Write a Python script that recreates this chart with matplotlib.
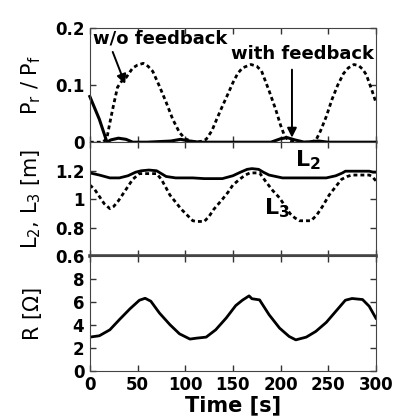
import matplotlib
matplotlib.use("Agg")
import matplotlib.pyplot as plt

plt.rcParams['font.family'] = 'DejaVu Sans'
plt.rcParams['mathtext.fontset'] = 'dejavusans'

# reflected power ratio
t_wo = [0, 14, 18, 21, 25, 29, 33, 38, 45, 50, 56, 61, 66, 73, 80, 87, 94, 100,
        106, 112, 118, 122, 128, 133, 139, 145, 150, 155, 160, 169, 175, 180,
        188, 195, 200, 204, 208, 214, 222, 230, 237, 242, 248, 254, 260, 266,
        271, 277, 282, 286, 290, 293, 296, 300]
p_wo = [0, 0, 0.008, 0.034, 0.066, 0.096, 0.106, 0.113, 0.13, 0.135, 0.138,
        0.133, 0.124, 0.098, 0.07, 0.04, 0.017, 0.006, 0.002, 0.0, 0.002,
        0.005, 0.02, 0.04, 0.063, 0.085, 0.104, 0.12, 0.13, 0.136, 0.133,
        0.125, 0.09, 0.057, 0.03, 0.012, 0.004, 0.001, 0.0, 0.0, 0.003, 0.02,
        0.045, 0.075, 0.1, 0.12, 0.13, 0.136, 0.134, 0.128, 0.118, 0.104,
        0.09, 0.07]

t_fb = [0, 5, 10, 15, 18, 22, 30, 38, 45, 60, 85, 95, 105, 115, 190, 200,
        207, 215, 225, 240, 250, 300]
p_fb = [0.08, 0.06, 0.04, 0.015, 0.0, 0.004, 0.007, 0.005, 0.0, 0.0, 0.002,
        0.005, 0.002, 0.0, 0.0, 0.006, 0.008, 0.004, 0.0, 0.002, 0.0, 0.0]

# line lengths
t_l2 = [0, 10, 21, 31, 40, 48, 54, 62, 70, 75, 80, 90, 108, 120, 139, 150,
        158, 165, 170, 177, 182, 188, 195, 202, 220, 248, 258, 265, 268, 280,
        293, 297, 300]
l2 = [1.185, 1.17, 1.15, 1.15, 1.165, 1.19, 1.20, 1.205, 1.20, 1.18, 1.16,
      1.15, 1.15, 1.145, 1.145, 1.165, 1.19, 1.21, 1.215, 1.21, 1.19, 1.17,
      1.16, 1.15, 1.15, 1.15, 1.165, 1.185, 1.197, 1.197, 1.197, 1.19, 1.19]

t_l3 = [0, 5, 10, 15, 21, 25, 30, 35, 40, 45, 52, 60, 70, 75, 80, 84, 90, 96,
        102, 108, 112, 120, 125, 130, 139, 145, 150, 157, 163, 168, 178, 185,
        192, 199, 205, 210, 215, 220, 232, 238, 244, 251, 258, 264, 270, 275,
        285, 293, 296, 300]
l3 = [1.10, 1.07, 1.02, 0.97, 0.935, 0.95, 0.99, 1.04, 1.09, 1.14, 1.18, 1.18,
      1.18, 1.14, 1.08, 1.03, 0.98, 0.93, 0.89, 0.85, 0.845, 0.845, 0.88, 0.93,
      1.00, 1.05, 1.10, 1.14, 1.17, 1.185, 1.185, 1.12, 1.06, 1.01, 0.95,
      0.90, 0.87, 0.85, 0.85, 0.89, 0.95, 1.03, 1.09, 1.14, 1.16, 1.17, 1.17,
      1.17, 1.16, 1.13]

# resistance
t_r = [0, 10, 21, 31, 42, 52, 58, 64, 73, 84, 94, 105, 112, 122, 132, 143,
       153, 160, 167, 170, 178, 188, 199, 209, 216, 227, 237, 248, 258, 268,
       275, 286, 293, 300]
r = [2.94, 3.06, 3.58, 4.47, 5.41, 6.17, 6.34, 6.08, 5.05, 4.03, 3.23, 2.77,
     2.85, 2.94, 3.58, 4.61, 5.70, 6.17, 6.55, 6.3, 6.2, 4.9, 3.73, 3.0, 2.7,
     2.94, 3.44, 4.23, 5.2, 6.17, 6.32, 6.23, 5.64, 4.6]

dots = (0, (1.4, 1.1))
lab_font = dict(fontsize=15)

fig, axs = plt.subplots(3, 1, figsize=(3.94, 4.17), dpi=100, sharex=True)
fig.subplots_adjust(left=0.228, right=0.954, bottom=0.111, top=0.933, hspace=0)

ax = axs[0]
ax.plot(t_wo, p_wo, color='black', lw=2.0, ls=dots)
ax.plot(t_fb, p_fb, color='black', lw=2.2, clip_on=False)
ax.set_ylim(0, 0.2)
ax.set_yticks([0, 0.1, 0.2])
ax.set_yticklabels(['0', '0.1', '0.2'])
ax.set_ylabel(r'P$_\mathregular{r}$ / P$_\mathregular{f}$', **lab_font)
ax.text(3, 0.172, 'w/o feedback', fontsize=13, fontweight='bold')
ax.annotate('', xy=(37, 0.102), xytext=(24, 0.158),
            arrowprops=dict(arrowstyle='-|>', color='black', lw=1.4,
                            mutation_scale=14, shrinkA=0, shrinkB=0))
ax.text(298, 0.146, 'with feedback', fontsize=13, fontweight='bold', ha='right')
ax.annotate('', xy=(212, 0.008), xytext=(212, 0.127),
            arrowprops=dict(arrowstyle='-|>', color='black', lw=1.4,
                            mutation_scale=14, shrinkA=0, shrinkB=0))

ax = axs[1]
ax.plot(t_l2, l2, color='black', lw=2.0)
ax.plot(t_l3, l3, color='black', lw=2.0, ls=dots)
ax.set_ylim(0.6, 1.4)
ax.set_yticks([0.6, 0.8, 1.0, 1.2])
ax.set_yticklabels(['0.6', '0.8', '1', '1.2'])
ax.set_ylabel(r'L$_\mathregular{2}$, L$_\mathregular{3}$ [m]', **lab_font)
ax.text(215, 1.232, r'L$_\mathregular{2}$', fontsize=16, fontweight='bold')
ax.text(183, 0.893, r'L$_\mathregular{3}$', fontsize=16, fontweight='bold')
ax.spines['bottom'].set_linewidth(2.6)

ax = axs[2]
ax.plot(t_r, r, color='black', lw=2.0)
ax.set_ylim(0, 10)
ax.set_yticks([0, 2, 4, 6, 8])
ax.set_ylabel('R [Ω]', **lab_font)
ax.set_xlim(0, 300)
ax.set_xticks([0, 50, 100, 150, 200, 250, 300])
ax.set_xlabel('Time [s]', fontsize=15, fontweight='bold', labelpad=1)

for ax in axs:
    ax.tick_params(direction='in', top=True, right=True, length=4, width=1,
                   labelsize=12, pad=4, colors='#333333', labelcolor='black')
    for lbl in ax.get_xticklabels() + ax.get_yticklabels():
        lbl.set_fontweight('bold')
    for s in ax.spines.values():
        s.set_color('#444444')
    ax.yaxis.set_label_coords(-0.165, 0.5)

plt.savefig('out.png', dpi=100)
